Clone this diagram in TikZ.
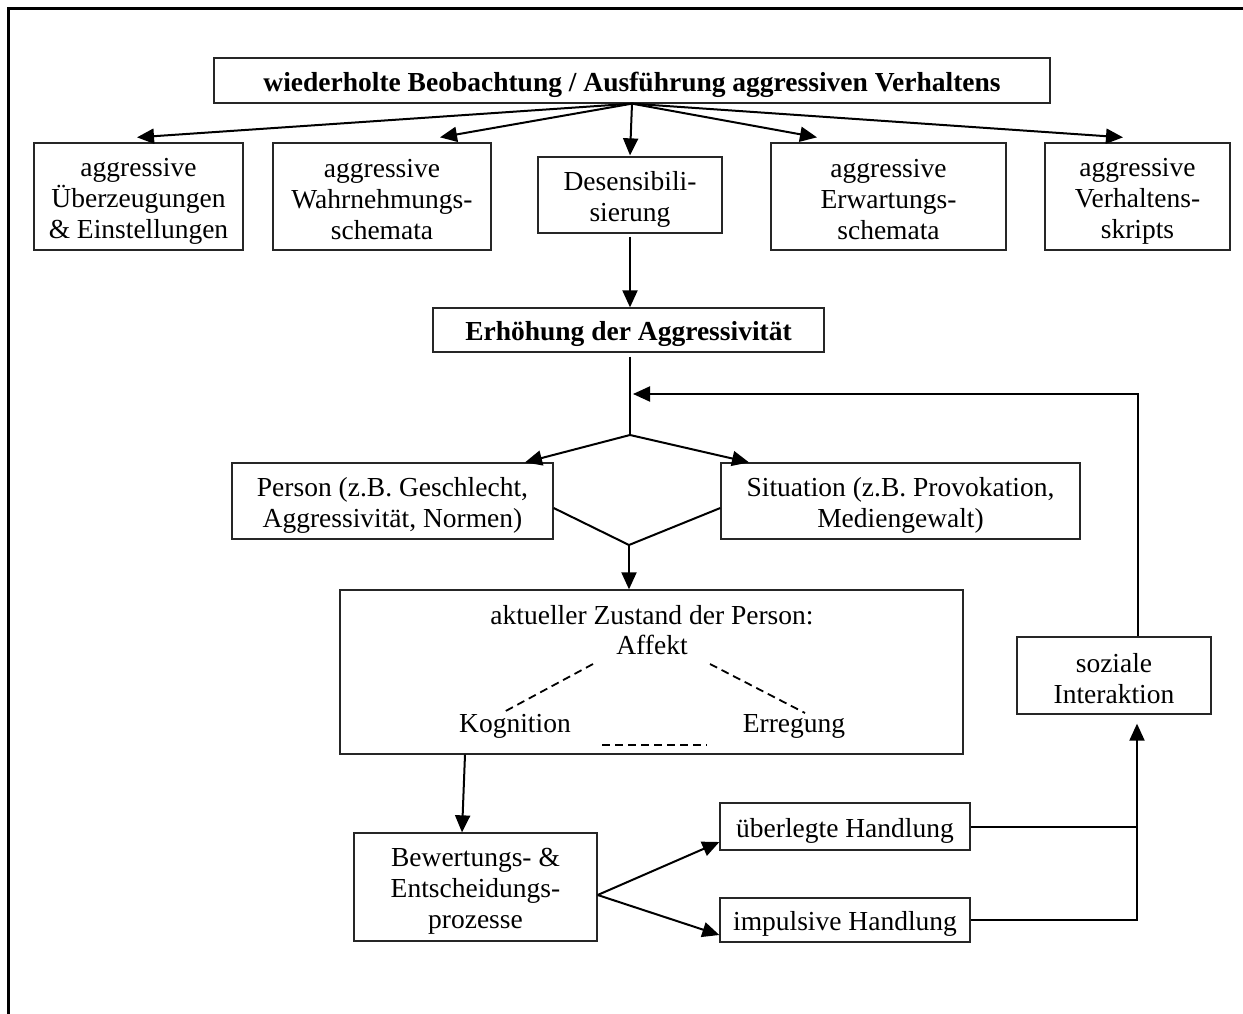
\documentclass[tikz,border=0pt]{standalone}
\usepackage{fontspec}
\setmainfont{Liberation Serif}
\usetikzlibrary{arrows.meta,calc}

% struts fixing the height above the first line and the depth below the last
\newcommand\tsa{\rule{0pt}{27.6pt}}
\newcommand\tsb{\rule[-3pt]{0pt}{3pt}}

\begin{document}
\begin{tikzpicture}[x=1pt,y=-1pt,
  txt/.style={font=\fontsize{27.5}{31}\selectfont},
  box/.style={txt, draw=black!85, line width=1.3pt, inner sep=0pt, align=center},
  lbl/.style={txt, inner sep=0pt, align=center},
  conn/.style={line width=2pt},
  arr/.style={conn, -{Triangle[length=17pt,width=15pt]}},
  dashline/.style={line width=1.8pt, dash pattern=on 8pt off 5pt},
]
\useasboundingbox (0,0) rectangle (1243,1014);

% open frame
\draw[line width=3pt] (1243,9) -- (8,9) -- (8,1014);

% top row
\node[box, minimum width=836pt, minimum height=45pt] (top) at (632,80.5)
  {\tsa\bfseries wiederholte Beobachtung / Ausführung aggressiven Verhaltens\tsb};

\node[box, minimum width=209pt, minimum height=107pt] (b1) at (138.5,196.5)
  {\tsa aggressive\\Überzeugungen\\\& Einstellungen\tsb};
\node[box, minimum width=218pt, minimum height=107pt] (b2) at (382,196.5)
  {\tsa aggressive\\Wahrnehmungs-\\schemata\tsb};
\node[box, minimum width=184pt, minimum height=76pt] (b3) at (630,195)
  {\tsa Desensibili-\\sierung\tsb};
\node[box, minimum width=235pt, minimum height=107pt] (b4) at (888.5,196.5)
  {\tsa aggressive\\Erwartungs-\\schemata\tsb};
\node[box, minimum width=185pt, minimum height=107pt] (b5) at (1137.5,196.5)
  {\tsa aggressive\\Verhaltens-\\skripts\tsb};

\node[box, minimum width=391pt, minimum height=44pt] (erh) at (628.5,330)
  {\tsa\bfseries Erhöhung der Aggressivität\tsb};

\node[box, minimum width=321pt, minimum height=76pt] (pers) at (392.5,501)
  {\tsa Person (z.B. Geschlecht,\\Aggressivität, Normen)\tsb};
\node[box, minimum width=359pt, minimum height=76pt] (sit) at (900.5,501)
  {\tsa Situation (z.B. Provokation,\\Mediengewalt)\tsb};

% current state of the person
\node[box, minimum width=623pt, minimum height=164pt] (zus) at (651.5,672) {};
\node[lbl] (zustxt) at (652,612) {\tsa aktueller Zustand der Person:\tsb};
\node[lbl] (aff) at (652,642) {\tsa Affekt\tsb};
\node[lbl] (kog) at (515,722) {\tsa Kognition\tsb};
\node[lbl] (err) at (794,722) {\tsa Erregung\tsb};

\node[box, minimum width=243pt, minimum height=108pt] (bew) at (475.5,887)
  {\tsa Bewertungs- \&\\Entscheidungs-\\prozesse\tsb};
\node[box, minimum width=250pt, minimum height=47pt] (ueb) at (845,826.5)
  {\tsa überlegte Handlung\tsb};
\node[box, minimum width=250pt, minimum height=44pt] (imp) at (845,920)
  {\tsa impulsive Handlung\tsb};
\node[box, minimum width=194pt, minimum height=77pt] (soz) at (1114,675.5)
  {\tsa soziale\\Interaktion\tsb};

% helper points
\coordinate (split) at (630,435);
\coordinate (merge) at (629,545);
\coordinate (fb) at (1138,394);
\coordinate (jx) at (1137,0);
\coordinate (d1a) at (593,664);
\coordinate (d1b) at (502,713);
\coordinate (d2a) at (710,664);
\coordinate (d2b) at (805,713);
\coordinate (d3a) at (602,745);
\coordinate (d3b) at (707,745);

% fan-out from the top box
\draw[arr] (top.south) -- ([xshift=-1.5pt,yshift=5pt]b1.north);
\draw[arr] (top.south) -- ([xshift=58pt,yshift=5pt]b2.north);
\draw[arr] (top.south) -- ([yshift=1pt]b3.north);
\draw[arr] (top.south) -- ([xshift=-71.5pt,yshift=5pt]b4.north);
\draw[arr] (top.south) -- ([xshift=-14.5pt,yshift=5pt]b5.north);

\draw[arr] ([yshift=-3pt]b3.south) -- (b3.south |- erh.north);
\draw[conn] ([yshift=-4pt]erh.south -| split) -- (split);

% feedback loop
\draw[arr] (soz.north -| fb) -- (fb) -- ([xshift=3pt]split |- fb);

% split into person / situation
\draw[arr] (split) -- ([xshift=132.5pt]pers.north);
\draw[arr] (split) -- ([xshift=-151.5pt]sit.north);
\draw[conn] ([yshift=-7pt]pers.east) -- (merge) -- ([yshift=-7pt]sit.west);
\draw[arr] (merge) -- (merge |- zus.north);

% inside the state box
\draw[dashline] (d1a) -- (d1b);
\draw[dashline] (d2a) -- (d2b);
\draw[dashline] (d3a) -- (d3b);

% decision and actions
\draw[arr] ([xshift=-186.5pt]zus.south) -- ([xshift=-13.5pt]bew.north);
\draw[arr] ([yshift=-8pt]bew.east) -- ([yshift=-15.5pt]ueb.west);
\draw[arr] ([yshift=-8pt]bew.east) -- ([yshift=-15pt]imp.west);
\draw[conn] (ueb.east) -- (ueb.east -| jx);
\draw[arr, shorten >=9pt] (imp.east) -- (imp.east -| jx) -- (soz.south -| jx);
\end{tikzpicture}
\end{document}
